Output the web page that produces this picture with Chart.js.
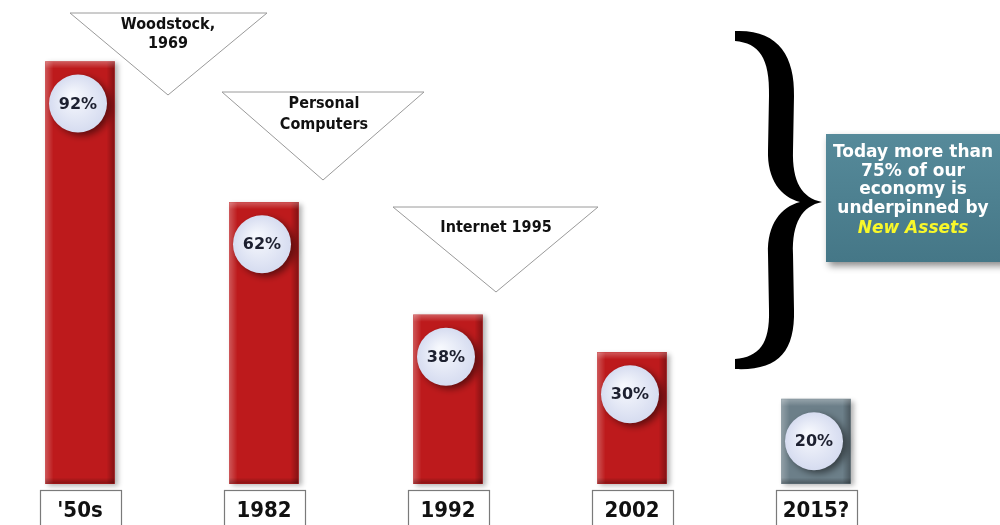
<!DOCTYPE html>
<html>
<head>
<meta charset="utf-8">
<script src="https://cdn.jsdelivr.net/npm/chart.js@4.4.1/dist/chart.umd.min.js"></script>
<style>
  html, body { margin: 0; padding: 0; background: #ffffff; }
  #wrap { width: 1000px; height: 525px; position: relative; }
</style>
</head>
<body>
<div id="wrap"><canvas id="c" width="1000" height="525"></canvas></div>
<script>
// ---- data ----
const categories = ["'50s", "1982", "1992", "2002", "2015?"];
const shareValues = [92, 62, 38, 30, 20];
const milestoneTexts = [["Woodstock,", "1969"], ["Personal", "Computers"], ["Internet 1995"]];
const calloutLines = ["Today more than", "75% of our", "economy is", "underpinned by"];
const calloutHighlight = "New Assets";

// ---- styles ----
const axisMin = 2;
const barColors = ['#bd1a1c', '#bd1a1c', '#bd1a1c', '#bd1a1c', '#6c7f89'];
const narrowFont = '"DejaVu Sans Condensed", "Liberation Sans Narrow", sans-serif';
const triangles = [
  { pts: [[70, 13], [267, 13], [168, 95]], cx: 168, ys: [25, 44] },
  { pts: [[222, 92], [424, 92], [323, 180]], cx: 324, ys: [104, 125] },
  { pts: [[393, 207], [598, 207], [496, 292]], cx: 496, ys: [228] }
];

const decor = {
  id: 'decor',
  beforeDraw(chart) {
    const ctx = chart.ctx;
    ctx.save();
    ctx.fillStyle = '#ffffff';
    ctx.fillRect(0, 0, chart.width, chart.height);
    ctx.restore();
  },
  beforeDatasetsDraw(chart) {
    const ctx = chart.ctx;
    ctx.save();
    ctx.shadowColor = 'rgba(0,0,0,0.3)';
    ctx.shadowBlur = 5;
    ctx.shadowOffsetX = 3;
    ctx.shadowOffsetY = 2;
  },
  afterDatasetsDraw(chart) {
    const ctx = chart.ctx;
    ctx.restore();
    const meta = chart.getDatasetMeta(0);
    meta.data.forEach((bar, i) => {
      const p = bar.getProps(['x', 'y', 'base', 'width'], true);
      const x0 = p.x - p.width / 2, x1 = p.x + p.width / 2;
      const top = p.y, bot = p.base;
      ctx.save();
      let g = ctx.createLinearGradient(x0, 0, x0 + 8, 0);
      g.addColorStop(0, 'rgba(255,255,255,0.25)');
      g.addColorStop(1, 'rgba(255,255,255,0)');
      ctx.fillStyle = g; ctx.fillRect(x0, top, 8, bot - top);
      g = ctx.createLinearGradient(x1 - 8, 0, x1, 0);
      g.addColorStop(0, 'rgba(0,0,0,0)');
      g.addColorStop(1, 'rgba(0,0,0,0.3)');
      ctx.fillStyle = g; ctx.fillRect(x1 - 8, top, 8, bot - top);
      g = ctx.createLinearGradient(0, top, 0, top + 7);
      g.addColorStop(0, 'rgba(255,255,255,0.28)');
      g.addColorStop(1, 'rgba(255,255,255,0)');
      ctx.fillStyle = g; ctx.fillRect(x0, top, p.width, 7);
      g = ctx.createLinearGradient(0, bot - 6, 0, bot);
      g.addColorStop(0, 'rgba(0,0,0,0)');
      g.addColorStop(1, 'rgba(0,0,0,0.3)');
      ctx.fillStyle = g; ctx.fillRect(x0, bot - 6, p.width, 6);
      ctx.restore();

      const cx = p.x - 2, cy = top + 42, r = 29;
      ctx.save();
      ctx.shadowColor = 'rgba(0,0,0,0.5)';
      ctx.shadowBlur = 7;
      ctx.shadowOffsetX = 4;
      ctx.shadowOffsetY = 3;
      const rg = ctx.createRadialGradient(cx - 6, cy - 8, 2, cx, cy, r);
      rg.addColorStop(0, '#f6f8fd');
      rg.addColorStop(1, '#d6dcf0');
      ctx.fillStyle = rg;
      ctx.beginPath(); ctx.arc(cx, cy, r, 0, Math.PI * 2); ctx.fill();
      ctx.restore();
      ctx.save();
      ctx.fillStyle = '#1d2030';
      ctx.font = 'bold 16px "DejaVu Sans", Verdana, sans-serif';
      ctx.textAlign = 'center';
      ctx.textBaseline = 'middle';
      ctx.fillText(chart.data.datasets[0].data[i] + '%', cx, cy + 1);
      ctx.restore();
    });
  },
  afterDraw(chart) {
    const ctx = chart.ctx;
    triangles.forEach((t, k) => {
      ctx.save();
      ctx.beginPath();
      ctx.moveTo(t.pts[0][0], t.pts[0][1]);
      ctx.lineTo(t.pts[1][0], t.pts[1][1]);
      ctx.lineTo(t.pts[2][0], t.pts[2][1]);
      ctx.closePath();
      ctx.fillStyle = '#ffffff';
      ctx.fill();
      ctx.strokeStyle = '#9a9a9a';
      ctx.lineWidth = 1;
      ctx.stroke();
      ctx.fillStyle = '#111111';
      ctx.font = 'bold 16px ' + narrowFont;
      ctx.textAlign = 'center';
      ctx.textBaseline = 'middle';
      milestoneTexts[k].forEach((line, j) => ctx.fillText(line, t.cx, t.ys[j]));
      ctx.restore();
    });

    // curly brace
    ctx.save();
    ctx.fillStyle = '#000000';
    ctx.beginPath();
    ctx.moveTo(735, 31);
    ctx.bezierCurveTo(778, 29, 795, 56, 794, 96);
    ctx.lineTo(793, 150);
    ctx.bezierCurveTo(792, 182, 802, 198, 822, 202);
    ctx.bezierCurveTo(802, 206, 792, 223, 793, 254);
    ctx.lineTo(794, 310);
    ctx.bezierCurveTo(795, 352, 778, 371, 735, 369);
    ctx.lineTo(735, 359);
    ctx.bezierCurveTo(759, 357, 770, 344, 769, 310);
    ctx.lineTo(768, 254);
    ctx.bezierCurveTo(767, 224, 781, 207, 800, 202);
    ctx.bezierCurveTo(781, 197, 767, 180, 768, 150);
    ctx.lineTo(769, 96);
    ctx.bezierCurveTo(770, 58, 759, 43, 735, 41);
    ctx.closePath();
    ctx.fill();
    ctx.restore();

    // callout box
    ctx.save();
    ctx.shadowColor = 'rgba(0,0,0,0.45)';
    ctx.shadowBlur = 7;
    ctx.shadowOffsetX = 3;
    ctx.shadowOffsetY = 4;
    const bg = ctx.createLinearGradient(0, 134, 0, 262);
    bg.addColorStop(0, '#568a9a');
    bg.addColorStop(1, '#457787');
    ctx.fillStyle = bg;
    ctx.fillRect(826, 134, 180, 128);
    ctx.restore();
    ctx.save();
    ctx.textAlign = 'center';
    ctx.textBaseline = 'middle';
    ctx.fillStyle = '#ffffff';
    ctx.font = 'bold 17px "DejaVu Sans", Verdana, sans-serif';
    const ly = [153, 172, 190, 209];
    calloutLines.forEach((line, j) => ctx.fillText(line, 913, ly[j]));
    ctx.fillStyle = '#f8f82a';
    ctx.font = 'italic bold 17px "DejaVu Sans", Verdana, sans-serif';
    ctx.fillText(calloutHighlight, 913, 229);
    ctx.restore();

    // category label boxes
    const xs = chart.scales.x;
    ctx.save();
    ctx.strokeStyle = '#7a7a7a';
    ctx.lineWidth = 1.2;
    xs.ticks.forEach((tk, i) => {
      const px = xs.getPixelForTick(i);
      ctx.strokeRect(Math.round(px - 40) + 0.5, 490.5, 81, 40);
    });
    ctx.restore();
  }
};

new Chart(document.getElementById('c'), {
  type: 'bar',
  data: {
    labels: categories,
    datasets: [{
      data: shareValues,
      base: axisMin,
      backgroundColor: barColors,
      borderWidth: 0,
      barThickness: 69,
      clip: false
    }]
  },
  options: {
    responsive: false,
    animation: false,
    events: [],
    layout: { padding: { left: 80, right: 184, top: 24, bottom: -13 } },
    plugins: { legend: { display: false }, tooltip: { enabled: false } },
    scales: {
      x: {
        offset: false,
        grid: { display: false, drawTicks: false },
        border: { display: false },
        ticks: {
          color: '#111111',
          font: { family: narrowFont, weight: 'bold', size: 22, lineHeight: 1.2 },
          padding: 14,
          autoSkip: false,
          maxRotation: 0
        }
      },
      y: {
        display: false,
        min: axisMin,
        max: 100
      }
    }
  },
  plugins: [decor]
});
</script>
</body>
</html>
